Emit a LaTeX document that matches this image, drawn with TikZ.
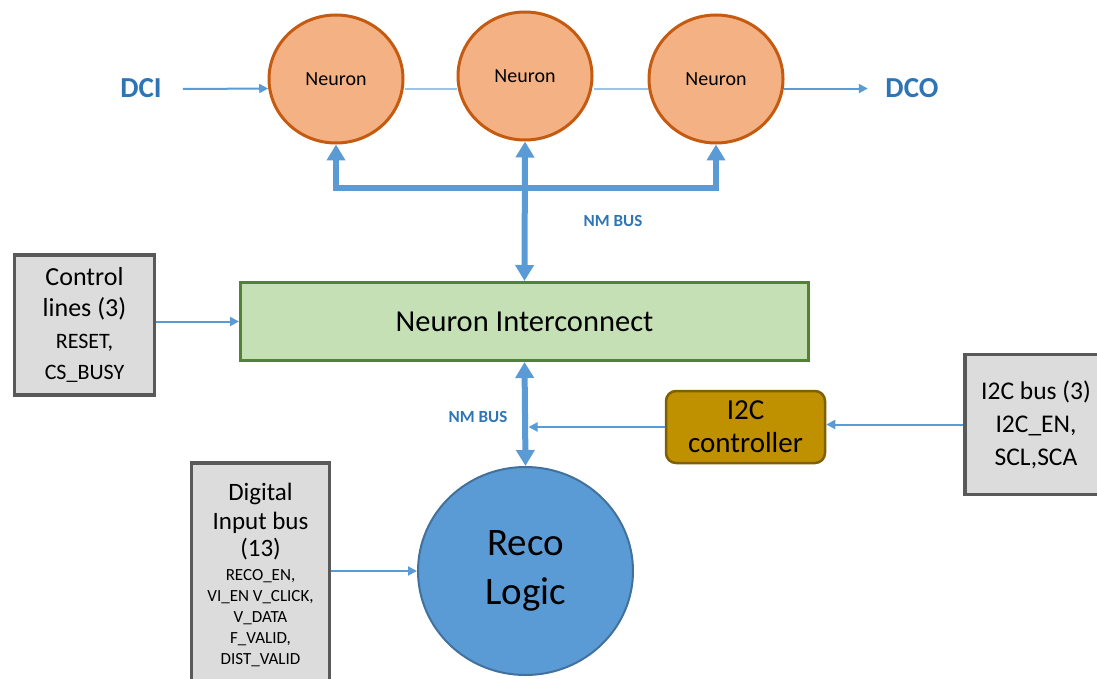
\documentclass[tikz,border=0pt]{standalone}
\usepackage{fontspec}
\setmainfont{Carlito}
\usetikzlibrary{shapes.geometric,arrows.meta,backgrounds}
\definecolor{nfill}{HTML}{F4B183}
\definecolor{ndraw}{HTML}{C55A11}
\definecolor{bblue}{HTML}{5B9BD5}
\definecolor{lblue}{HTML}{9DC3E6}
\definecolor{tblue}{HTML}{2E75B6}
\definecolor{gfill}{HTML}{C5E0B4}
\definecolor{gdraw}{HTML}{548235}
\definecolor{boxfill}{HTML}{DCDCDC}
\definecolor{boxdraw}{HTML}{595959}
\definecolor{ofill}{HTML}{BF9000}
\definecolor{odraw}{HTML}{7F6000}
\definecolor{rdraw}{HTML}{41719C}
\newcommand{\fs}[2]{\fontsize{#1}{#2}\selectfont}
\begin{document}
\begin{tikzpicture}[x=1pt,y=-1pt,
  neuron/.style={ellipse,fill=nfill,draw=ndraw,line width=3pt,inner sep=0pt,
    minimum width=134pt,minimum height=128pt,font=\fs{20}{24}},
  lbl/.style={font=\bfseries\fs{29}{34},text=tblue,inner sep=0pt},
  buslbl/.style={font=\bfseries\fs{17}{20},text=tblue,inner sep=0pt},
  thin/.style={draw=bblue,line width=2pt,-{Triangle[width=9pt,length=9pt]}},
  link/.style={draw=lblue,line width=1.5pt},
  bus/.style={draw=bblue,line width=6pt},
  busarrow/.style={bus,-{Triangle[width=18pt,length=16pt]}},
  busboth/.style={bus,{Triangle[width=18pt,length=16pt]}-{Triangle[width=18pt,length=16pt]}},
  graybox/.style={rectangle,fill=boxfill,draw=boxdraw,line width=3.5pt,inner sep=0pt,align=center}
]
\useasboundingbox (0,0) rectangle (1097,679);
\clip (0,0) rectangle (1097,679);

% neurons
\node[neuron] (n1) at (336,79) {Neuron};
\node[neuron] (n2) at (525,76) {Neuron};
\node[neuron] (n3) at (716,79) {Neuron};
\node[lbl] (dci) at (141,88) {DCI};
\node[lbl] (dco) at (912,88) {DCO};

% interconnect
\node[rectangle,fill=gfill,draw=gdraw,line width=3pt,minimum width=568pt,minimum height=78pt,inner sep=0pt,font=\fs{30.5}{34}]
  (ni) at (524.5,321.5) {Neuron Interconnect};

% control lines
\node[graybox,minimum width=140pt,minimum height=140pt,font=\fs{26}{31.5}] (ctrl) at (84.5,325)
  {Control\\lines (3)\\\fs{22}{27}RESET,\\\fs{22}{27}CS\_BUSY};

% I2C controller
\node[rectangle,rounded corners=10pt,fill=ofill,draw=odraw,line width=2.5pt,
  minimum width=159pt,minimum height=72pt,inner sep=0pt,align=center,font=\fs{29}{33}]
  (i2cc) at (745.5,427) {I2C\\controller};

% I2C bus box
\node[graybox,minimum width=142pt,minimum height=140pt,font=\fs{25.5}{33}] (i2cb) at (1036,424.5)
  {I2C bus (3)\\I2C\_EN,\\SCL,SCA};

% digital input box
\node[graybox,minimum width=138pt,minimum height=224pt,anchor=north,font=\fs{25}{29}] (dig) at (260.5,461)
  {Digital\\Input bus\\[-2pt](13)\\[-5pt]\fs{17}{21}RECO\_EN,\\[-8pt]\fs{17}{21}VI\_EN V\_CLICK,\\[-8pt]\fs{17}{21}V\_DATA\\[-8pt]\fs{17}{21}F\_VALID,\\[-8pt]\fs{17}{21}DIST\_VALID};

% reco logic
\node[ellipse,fill=bblue,draw=rdraw,line width=2pt,inner sep=0pt,minimum width=215pt,minimum height=208pt,
  align=center,font=\fs{39}{49}] (reco) at (525.5,571) {Reco\\Logic};

% bus labels
\node[buslbl] (nmb1) at (613,221) {NM BUS};
\node[buslbl] (nmb2) at (478,417) {NM BUS};

\coordinate (bl) at (336,188);
\coordinate (br) at (716,188);

\begin{pgfonlayer}{background}
  \draw[link] (n1.east |- 0,89) -- (n2.west |- 0,89);
  \draw[link] (n2.east |- 0,89) -- (n3.west |- 0,89);
\end{pgfonlayer}

\draw[thin] (dci.east) ++(21,1) -- (n1.188);
\draw[thin] (n3.-8) -- ++(84,0);

\draw[bus,line cap=rect] (bl) -- (br);
\draw[busarrow] (bl) -- (n1.south);
\draw[busarrow] (br) -- (n3.south);
\draw[busboth] (n2.south) -- (ni.north);
\draw[busboth] (ni.south) -- (reco.north);

\draw[thin] (ctrl.east |- ni.west) -- (ni.west);
\draw[thin] (i2cb.west) -- (i2cb.west -| i2cc.east);
\draw[thin,shorten >=3pt] (i2cc.west) -- (i2cc.west -| reco.north);
\draw[thin] (dig.east |- reco.west) -- (reco.west);
\end{tikzpicture}
\end{document}
